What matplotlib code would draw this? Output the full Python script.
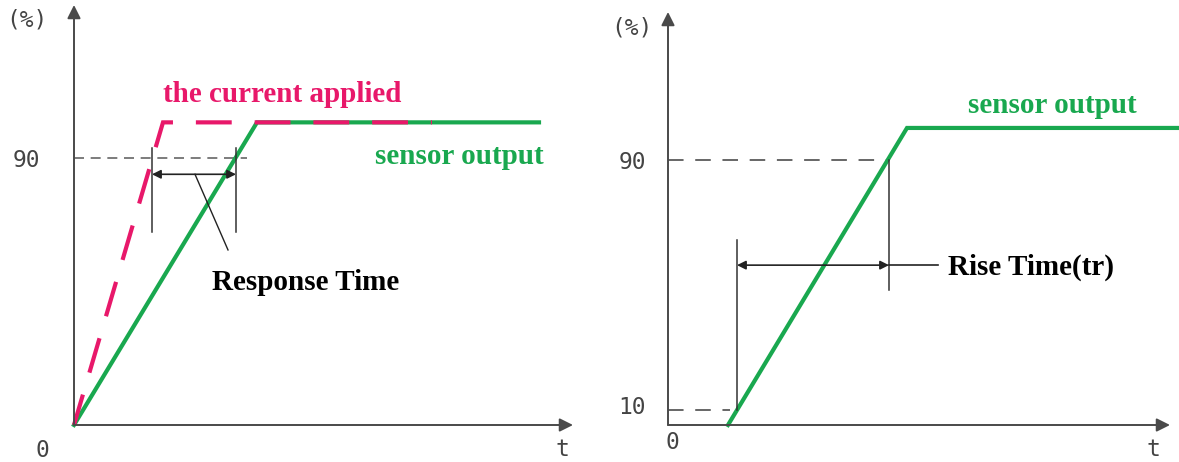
import numpy as np
import matplotlib
matplotlib.use('Agg')
import matplotlib.pyplot as plt

# ---- data (t in arbitrary units, level in %) ----
# left panel: response time
applied_t = [0, 8.9, 35.8]
applied_y = [0, 102, 102]
sensor_l_t = [0, 18.3, 46.5]
sensor_l_y = [0, 102, 102]
ref90_l_t = [0, 17.3]
resp_marks = [7.8, 16.2]          # t where each curve crosses 90 %
resp_mark_y = [65, 93.5]
resp_arrow_y = 84.5

# right panel: rise time
sensor_r_t = [6.0, 23.9, 51.1]
sensor_r_y = [0, 100.9, 100.9]
ref90_r_t = [0, 22.1]
ref10_r_t = [0, 6.2]
level_hi = 90
level_lo = 5.2                    # drawn position of the "10" level
rise_marks = [6.9, 22.1]
rise_mark_lo = [level_lo, 62.8]
rise_mark_hi = [45.8, level_hi]
rise_arrow_y = 54.3

PINK = '#e8186a'
GREEN = '#19a84f'
AXC = '#4a4a4a'
GRAY = '#666666'

W, H = 1179, 462
fig = plt.figure(figsize=(W / 100, H / 100), dpi=100)

def make_ax(x0, y0, x1, y1, ypx):
    # pixel box -> figure fractions; ypx = pixels per percent
    ax = fig.add_axes([x0 / W, (H - y0) / H, (x1 - x0) / W, (y0 - y1) / H])
    ax.set_xlim(0, (x1 - x0) / 10)
    ax.set_ylim(0, (y0 - y1) / ypx)
    ax.axis('off')
    xmax = (x1 - x0) / 10
    ymax = (y0 - y1) / ypx
    ax.annotate('', xy=(xmax, 0), xytext=(0, 0),
                arrowprops=dict(arrowstyle='-|>', color=AXC, lw=1.4,
                                mutation_scale=20, shrinkA=0, shrinkB=0),
                annotation_clip=False)
    ax.annotate('', xy=(0, ymax), xytext=(0, 0),
                arrowprops=dict(arrowstyle='-|>', color=AXC, lw=1.4,
                                mutation_scale=20, shrinkA=0, shrinkB=0),
                annotation_clip=False)
    return ax

mono = dict(family='DejaVu Sans Mono', color='#444444', fontsize=16.5,
            ha='center', va='center')
serif = dict(family='Liberation Serif', fontweight='bold', fontsize=21,
             va='center')

# ---------------- left panel ----------------
ax1 = make_ax(74, 425, 573, 5, 2.967)
ax1.plot(ref90_l_t, [90, 90], color=GRAY, lw=1.2, dashes=(6, 4))
ax1.plot(sensor_l_t, sensor_l_y, color=GREEN, lw=3, solid_joinstyle='miter',
         clip_on=False)
ax1.plot(applied_t, applied_y, color=PINK, lw=3, linestyle=(1.0, (8.6, 5.5)),
         dash_joinstyle='miter', clip_on=False)
for t in resp_marks:
    ax1.plot([t, t], resp_mark_y, color='#333333', lw=1.1)
ax1.annotate('', xy=(resp_marks[0], resp_arrow_y),
             xytext=(resp_marks[1], resp_arrow_y),
             arrowprops=dict(arrowstyle='<|-|>', color='#222222', lw=1.2,
                             mutation_scale=13, shrinkA=0, shrinkB=0))
ax1.plot([12.1, 15.4], [resp_arrow_y, 59], color='#222222', lw=1.0)

ax1.text(-4.8, 89, '90', **mono)
ax1.text(-4.7, 136.5, '(%)', **mono)
ax1.text(-3.2, -8.5, '0', **mono)
ax1.text(48.8, -8.2, 't', **mono)
ax1.text(8.9, 111.5, 'the current applied', color=PINK, ha='left', **serif)
ax1.text(30.1, 90.5, 'sensor output', color=GREEN, ha='left', **serif)
ax1.text(13.8, 48, 'Response Time', color='black', ha='left', **serif)

# ---------------- right panel ----------------
ax2 = make_ax(668, 425, 1170, 12, 2.944)
ax2.plot(ref90_r_t, [level_hi, level_hi], color=GRAY, lw=1.4, dashes=(8, 6))
ax2.plot(ref10_r_t, [level_lo, level_lo], color=GRAY, lw=1.4, dashes=(8, 6))
ax2.plot(sensor_r_t, sensor_r_y, color=GREEN, lw=3, solid_joinstyle='miter',
         clip_on=False)
ax2.plot([rise_marks[0]] * 2, rise_mark_lo, color='#333333', lw=1.1)
ax2.plot([rise_marks[1]] * 2, rise_mark_hi, color='#333333', lw=1.1)
ax2.annotate('', xy=(rise_marks[0], rise_arrow_y),
             xytext=(rise_marks[1], rise_arrow_y),
             arrowprops=dict(arrowstyle='<|-|>', color='#222222', lw=1.2,
                             mutation_scale=13, shrinkA=0, shrinkB=0))
ax2.plot([rise_marks[1], 27.0], [rise_arrow_y, rise_arrow_y],
         color='#222222', lw=1.2)

ax2.text(-3.6, 89, '90', **mono)
ax2.text(-3.6, level_lo + 0.8, '10', **mono)
ax2.text(-3.6, 135, '(%)', **mono)
ax2.text(0.4, -6, '0', **mono)
ax2.text(48.5, -8.2, 't', **mono)
ax2.text(30.0, 108.5, 'sensor output', color=GREEN, ha='left', **serif)
ax2.text(28.0, 53.5, 'Rise Time(tr)', color='black', ha='left', **serif)

fig.savefig('out.png', dpi=100)
